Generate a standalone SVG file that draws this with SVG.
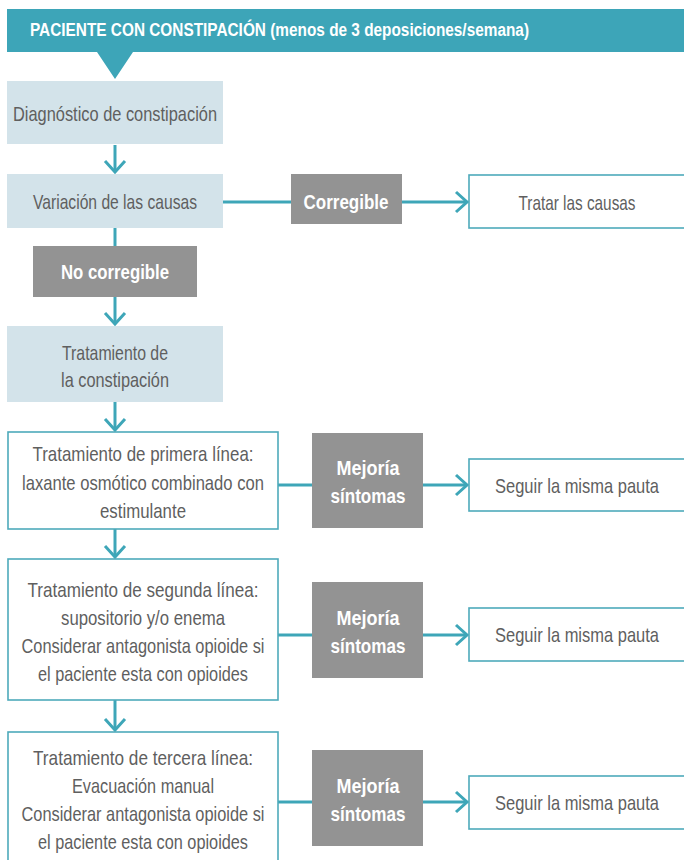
<svg xmlns="http://www.w3.org/2000/svg" width="684" height="860" viewBox="0 0 684 860">
  <style>
    .t { font-family: "Liberation Sans Narrow", "Liberation Sans", Arial, sans-serif; font-size: 21px; fill: #5f5f5f; text-anchor: middle; }
    .b { font-family: "Liberation Sans Narrow", "Liberation Sans", Arial, sans-serif; font-size: 21px; font-weight: bold; fill: #ffffff; text-anchor: middle; }
    .h { font-family: "Liberation Sans Narrow", "Liberation Sans", Arial, sans-serif; font-size: 18px; font-weight: bold; fill: #ffffff; }
    .soft { fill: #d3e3ea; }
    .grey { fill: #939393; }
    .plain { fill: #ffffff; stroke: #4eaabb; stroke-width: 1.6; }
    .wire { fill: none; stroke: #3ea6b8; stroke-width: 3; }
  </style>
  <defs>
    <marker id="chev" markerUnits="userSpaceOnUse" markerWidth="30" markerHeight="30" viewBox="-15 -15 30 30" refX="0" refY="0" orient="auto">
      <path d="M-11,-10 L0,0 L-11,10" fill="none" stroke="#3ea6b8" stroke-width="3"/>
    </marker>
  </defs>

  <!-- title banner with pointer -->
  <g id="header">
    <path d="M7,9 H684 V52 H133 L115,79 L97,52 H7 Z" fill="#3da5b8"/>
    <text class="h" x="30" y="36" textLength="499" lengthAdjust="spacingAndGlyphs">PACIENTE CON CONSTIPACIÓN (menos de 3 deposiciones/semana)</text>
  </g>

  <!-- connectors -->
  <g id="connectors">
    <path class="wire" d="M115,145 V172" marker-end="url(#chev)"/>
    <path class="wire" d="M115,228 V246"/>
    <path class="wire" d="M222,202 H291"/>
    <path class="wire" d="M402,202 H467" marker-end="url(#chev)"/>
    <path class="wire" d="M115,297 V324" marker-end="url(#chev)"/>
    <path class="wire" d="M115,402 V430" marker-end="url(#chev)"/>
    <path class="wire" d="M278,485 H312"/>
    <path class="wire" d="M423,485 H467" marker-end="url(#chev)"/>
    <path class="wire" d="M115,529 V557" marker-end="url(#chev)"/>
    <path class="wire" d="M278,635 H312"/>
    <path class="wire" d="M423,635 H467" marker-end="url(#chev)"/>
    <path class="wire" d="M115,700 V730" marker-end="url(#chev)"/>
    <path class="wire" d="M278,802 H312"/>
    <path class="wire" d="M423,802 H467" marker-end="url(#chev)"/>
  </g>

  <g id="diagnostico">
    <rect class="soft" x="7" y="81" width="216" height="63"/>
    <text class="t" x="115" y="121" textLength="204" lengthAdjust="spacingAndGlyphs">Diagnóstico de constipación</text>
  </g>

  <g id="variacion">
    <rect class="soft" x="7" y="174" width="216" height="54"/>
    <text class="t" x="115" y="209" textLength="164" lengthAdjust="spacingAndGlyphs">Variación de las causas</text>
  </g>

  <g id="corregible">
    <rect class="grey" x="291" y="174" width="111" height="50"/>
    <text class="b" x="346" y="209" textLength="85" lengthAdjust="spacingAndGlyphs">Corregible</text>
  </g>

  <g id="tratar-causas">
    <rect class="plain" x="469" y="175" width="216" height="53"/>
    <text class="t" x="577" y="210" textLength="117" lengthAdjust="spacingAndGlyphs">Tratar las causas</text>
  </g>

  <g id="no-corregible">
    <rect class="grey" x="33" y="246" width="164" height="51"/>
    <text class="b" x="115" y="279" textLength="108" lengthAdjust="spacingAndGlyphs">No corregible</text>
  </g>

  <g id="tratamiento">
    <rect class="soft" x="7" y="326" width="216" height="76"/>
    <text class="t" x="115" y="360" textLength="106" lengthAdjust="spacingAndGlyphs">Tratamiento de</text>
    <text class="t" x="115" y="387" textLength="108" lengthAdjust="spacingAndGlyphs">la constipación</text>
  </g>

  <g id="primera-linea">
    <rect class="plain" x="8" y="432" width="270" height="97"/>
    <text class="t" x="143" y="461" textLength="221" lengthAdjust="spacingAndGlyphs">Tratamiento de primera línea:</text>
    <text class="t" x="143" y="490" textLength="242" lengthAdjust="spacingAndGlyphs">laxante osmótico combinado con</text>
    <text class="t" x="143" y="518" textLength="86" lengthAdjust="spacingAndGlyphs">estimulante</text>
  </g>

  <g id="mejoria-1">
    <rect class="grey" x="312" y="433" width="111" height="95"/>
    <text class="b" x="368" y="475" textLength="63" lengthAdjust="spacingAndGlyphs">Mejoría</text>
    <text class="b" x="368" y="503" textLength="75" lengthAdjust="spacingAndGlyphs">síntomas</text>
  </g>

  <g id="seguir-1">
    <rect class="plain" x="469" y="459" width="216" height="52"/>
    <text class="t" x="577" y="493" textLength="164" lengthAdjust="spacingAndGlyphs">Seguir la misma pauta</text>
  </g>

  <g id="segunda-linea">
    <rect class="plain" x="8" y="559" width="270" height="141"/>
    <text class="t" x="143" y="597" textLength="231" lengthAdjust="spacingAndGlyphs">Tratamiento de segunda línea:</text>
    <text class="t" x="143" y="625" textLength="164" lengthAdjust="spacingAndGlyphs">supositorio y/o enema</text>
    <text class="t" x="143" y="653" textLength="243" lengthAdjust="spacingAndGlyphs">Considerar antagonista opioide si</text>
    <text class="t" x="143" y="681" textLength="210" lengthAdjust="spacingAndGlyphs">el paciente esta con opioides</text>
  </g>

  <g id="mejoria-2">
    <rect class="grey" x="312" y="582" width="111" height="96"/>
    <text class="b" x="368" y="625" textLength="63" lengthAdjust="spacingAndGlyphs">Mejoría</text>
    <text class="b" x="368" y="653" textLength="75" lengthAdjust="spacingAndGlyphs">síntomas</text>
  </g>

  <g id="seguir-2">
    <rect class="plain" x="469" y="608" width="216" height="53"/>
    <text class="t" x="577" y="642" textLength="164" lengthAdjust="spacingAndGlyphs">Seguir la misma pauta</text>
  </g>

  <g id="tercera-linea">
    <rect class="plain" x="8" y="732" width="270" height="140"/>
    <text class="t" x="143" y="765" textLength="220" lengthAdjust="spacingAndGlyphs">Tratamiento de tercera línea:</text>
    <text class="t" x="143" y="793" textLength="142" lengthAdjust="spacingAndGlyphs">Evacuación manual</text>
    <text class="t" x="143" y="821" textLength="243" lengthAdjust="spacingAndGlyphs">Considerar antagonista opioide si</text>
    <text class="t" x="143" y="849" textLength="210" lengthAdjust="spacingAndGlyphs">el paciente esta con opioides</text>
  </g>

  <g id="mejoria-3">
    <rect class="grey" x="312" y="750" width="111" height="96"/>
    <text class="b" x="368" y="793" textLength="63" lengthAdjust="spacingAndGlyphs">Mejoría</text>
    <text class="b" x="368" y="821" textLength="75" lengthAdjust="spacingAndGlyphs">síntomas</text>
  </g>

  <g id="seguir-3">
    <rect class="plain" x="469" y="776" width="216" height="53"/>
    <text class="t" x="577" y="810" textLength="164" lengthAdjust="spacingAndGlyphs">Seguir la misma pauta</text>
  </g>
</svg>
